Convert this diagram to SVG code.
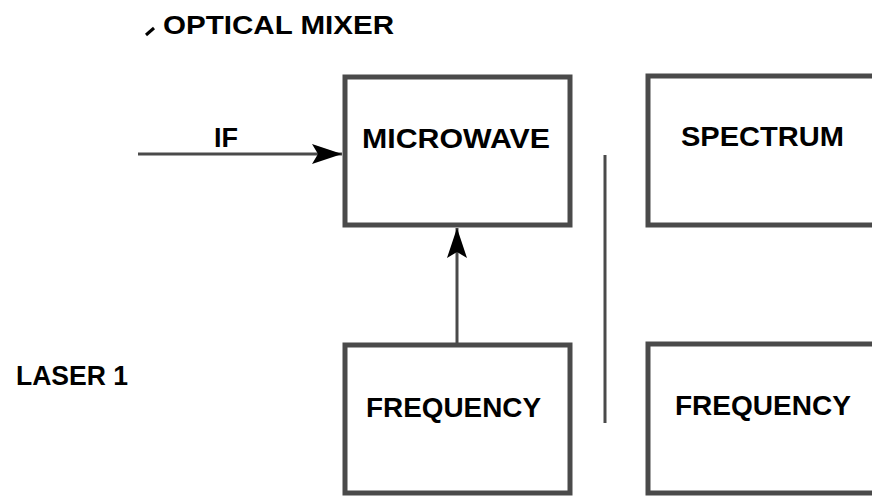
<svg xmlns="http://www.w3.org/2000/svg" width="872" height="497" viewBox="0 0 872 497">
<style>
.box{fill:#fff;stroke:#4a4a4a;stroke-width:5}
.lbl{font-family:"Liberation Sans",Arial,sans-serif;font-weight:bold;fill:#000}
.ln{stroke:#4a4a4a;stroke-width:3;fill:none}
</style>
<defs>
<marker id="ah2" viewBox="0 0 30 24" refX="30" refY="12" markerWidth="30" markerHeight="24" markerUnits="userSpaceOnUse" orient="auto">
<path d="M0,2 L30,12 L0,22 L6,12 Z" fill="#000"/>
</marker>
</defs>
<rect width="872" height="497" fill="#fff"/>
<g id="title">
<path d="M146,35 L154,28" stroke="#000" stroke-width="3"/>
<text class="lbl" x="163" y="34" font-size="25" textLength="231" lengthAdjust="spacingAndGlyphs">OPTICAL MIXER</text>
</g>
<g id="laser1">
<text class="lbl" x="16" y="385" font-size="27" textLength="112" lengthAdjust="spacingAndGlyphs">LASER 1</text>
</g>
<g id="microwave">
<rect class="box" x="345" y="77" width="225" height="148"/>
<text class="lbl" x="362" y="148" font-size="27" textLength="188" lengthAdjust="spacingAndGlyphs">MICROWAVE</text>
</g>
<g id="spectrum">
<rect class="box" x="648" y="76" width="240" height="149"/>
<text class="lbl" x="681" y="146" font-size="28" textLength="163" lengthAdjust="spacingAndGlyphs">SPECTRUM</text>
</g>
<g id="frequency1">
<rect class="box" x="345" y="345" width="225" height="148"/>
<text class="lbl" x="366" y="417" font-size="28" textLength="175" lengthAdjust="spacingAndGlyphs">FREQUENCY</text>
</g>
<g id="frequency2">
<rect class="box" x="648" y="344" width="240" height="149"/>
<text class="lbl" x="675" y="415" font-size="28" textLength="176" lengthAdjust="spacingAndGlyphs">FREQUENCY</text>
</g>
<g id="connectors">
<line class="ln" x1="138" y1="154" x2="342" y2="154" marker-end="url(#ah2)"/>
<text class="lbl" x="214" y="147" font-size="27" textLength="24" lengthAdjust="spacingAndGlyphs">IF</text>
<line class="ln" x1="457" y1="343" x2="457" y2="228" marker-end="url(#ah2)"/>
<line class="ln" x1="605" y1="155" x2="605" y2="423"/>
</g>
</svg>
